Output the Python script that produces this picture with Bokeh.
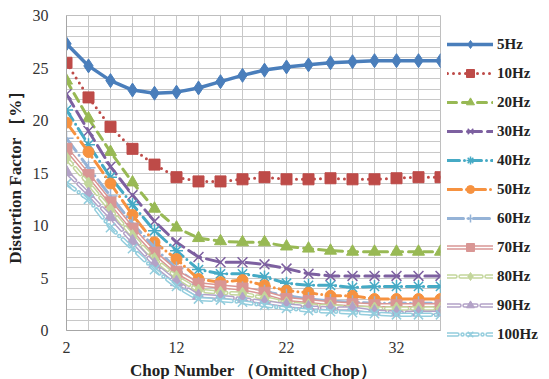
from bokeh.plotting import figure
from bokeh.models import Range1d, FixedTicker, Legend, LegendItem
from bokeh.embed import file_html
from bokeh.resources import INLINE

chop = list(range(2, 37, 2))
series_names = ["5Hz", "10Hz", "20Hz", "30Hz", "40Hz", "50Hz", "60Hz", "70Hz", "80Hz", "90Hz", "100Hz"]

hz5 = [27.3, 25.2, 23.8, 22.9, 22.6, 22.7, 23.1, 23.7, 24.3, 24.8, 25.1, 25.3, 25.5, 25.6, 25.7, 25.7, 25.7, 25.7]
hz10 = [25.5, 22.2, 19.4, 17.3, 15.8, 14.6, 14.2, 14.2, 14.4, 14.6, 14.4, 14.4, 14.5, 14.4, 14.4, 14.5, 14.6, 14.6]
hz20 = [23.8, 20.2, 17.0, 14.1, 11.6, 9.8, 8.8, 8.5, 8.4, 8.4, 8.0, 7.8, 7.6, 7.5, 7.5, 7.5, 7.5, 7.5]
hz30 = [22.5, 19.0, 15.6, 12.9, 10.4, 8.4, 7.0, 6.5, 6.5, 6.3, 5.9, 5.4, 5.2, 5.2, 5.2, 5.2, 5.2, 5.2]
hz40 = [21.0, 17.7, 14.6, 12.0, 9.5, 7.6, 5.8, 5.4, 5.4, 5.1, 4.5, 4.3, 4.3, 4.1, 4.2, 4.2, 4.2, 4.2]
hz50 = [19.8, 17.0, 14.0, 11.0, 8.4, 6.8, 4.9, 4.6, 4.8, 4.3, 3.8, 3.6, 3.3, 3.3, 3.0, 3.0, 3.0, 3.0]
hz60 = [18.3, 15.5, 12.8, 10.2, 7.9, 5.9, 4.4, 4.1, 4.0, 3.7, 3.3, 3.0, 2.8, 2.7, 2.6, 2.6, 2.6, 2.6]
hz70 = [17.3, 14.8, 12.2, 9.7, 7.4, 5.6, 4.4, 4.2, 4.0, 3.6, 3.0, 2.8, 2.6, 2.5, 2.4, 2.4, 2.4, 2.4]
hz80 = [16.4, 14.0, 11.5, 9.0, 6.8, 5.1, 3.8, 3.6, 3.5, 3.1, 2.6, 2.4, 2.3, 2.2, 2.1, 2.1, 2.1, 2.1]
hz90 = [15.1, 13.0, 10.8, 8.5, 6.3, 4.6, 3.3, 3.2, 3.0, 2.7, 2.4, 2.2, 2.1, 2.1, 1.8, 1.7, 1.7, 1.7]
hz100 = [14.0, 12.5, 9.8, 7.8, 5.8, 4.2, 3.0, 2.9, 2.7, 2.4, 2.1, 1.9, 1.8, 1.7, 1.6, 1.5, 1.5, 1.5]
all_values = [hz5, hz10, hz20, hz30, hz40, hz50, hz60, hz70, hz80, hz90, hz100]

x_tick_labels = [2, 12, 22, 32]
y_tick_labels = [0, 5, 10, 15, 20, 25, 30]

# style per series: color, dash, marker, marker size, hollow line
styles = [
    ("#4A7EBB", "solid", "diamond", 14, False),
    ("#BE4B48", "0 6", "square", 11, False),
    ("#98B954", "9 6", "triangle", 12, False),
    ("#7D60A0", "14 6", "x", 14, False),
    ("#46AAC5", "12 5 0 5", "asterisk", 13, False),
    ("#F69240", "14 5 0 5", "circle", 11, False),
    ("#95B3D7", "16 5 0 5", "cross", 14, False),
    ("#D99694", "solid", "square", 11, True),
    ("#C3D69B", "8 5", "diamond", 13, True),
    ("#B3A2C7", "12 5", "triangle", 12, True),
    ("#93CDDD", "10 5 0 5", "x", 13, True),
]

p = figure(frame_width=374, frame_height=315, output_backend="svg", toolbar_location=None,
           x_range=Range1d(2, 36), y_range=Range1d(0, 30),
           min_border_left=66, min_border_right=0, min_border_top=15, min_border_bottom=48)
p.background_fill_color = "white"
p.outline_line_color = "#BFBFBF"

p.xaxis.ticker = FixedTicker(ticks=x_tick_labels)
p.yaxis.ticker = FixedTicker(ticks=y_tick_labels)
p.xgrid[0].ticker = FixedTicker(ticks=chop)
p.ygrid[0].ticker = FixedTicker(ticks=list(range(0, 31)))
p.xgrid.grid_line_color = "#C8C8C8"
p.ygrid.grid_line_color = "#C8C8C8"
p.xgrid.grid_line_width = 1
p.ygrid.grid_line_width = 1

for ax in (p.xaxis, p.yaxis):
    ax.axis_line_color = "#A6A6A6"
    ax.major_tick_line_color = None
    ax.minor_tick_line_color = None
    ax.major_label_text_font = "Liberation Serif"
    ax.major_label_text_font_size = "16px"
    ax.major_label_text_color = "#333333"
    ax.axis_label_text_font = "Liberation Serif"
    ax.axis_label_text_font_size = "17px"
    ax.axis_label_text_font_style = "bold"
    ax.axis_label_text_color = "#222222"
p.yaxis.major_label_standoff = 12
p.xaxis.major_label_standoff = 5
p.xaxis.axis_label = "Chop Number （Omitted Chop）"
p.yaxis.axis_label = "Distortion Factor ［%］"
p.xaxis.axis_label_standoff = 5
p.yaxis.axis_label_standoff = 5

items = []
for name, vals, (col, dash, mk, ms, hollow) in zip(series_names, all_values, styles):
    rs = []
    if hollow:
        rs.append(p.line(chop, vals, line_color=col, line_width=4.5, line_dash=dash, line_cap="round"))
        rs.append(p.line(chop, vals, line_color="white", line_width=1.5, line_dash=dash, line_cap="round"))
    else:
        rs.append(p.line(chop, vals, line_color=col, line_width=3.5 if name == "5Hz" else 3,
                         line_dash=dash, line_cap="round"))
    rs.append(p.scatter(chop, vals, marker=mk, size=ms, fill_color=col, line_color=col,
                        line_width=1.5 if mk in ("x", "asterisk", "cross") else 1))
    items.append(LegendItem(label=name, renderers=rs))

legend = Legend(items=items, location=(7, -14), orientation="vertical",
                glyph_width=46, glyph_height=20, label_height=20, spacing=9,
                padding=0, margin=0, label_standoff=4,
                border_line_alpha=0, background_fill_alpha=0,
                label_text_font="Liberation Serif", label_text_font_size="15px",
                label_text_font_style="bold", label_text_color="#222222")
p.add_layout(legend, "right")

open("out.html", "w").write(file_html(p, INLINE))
